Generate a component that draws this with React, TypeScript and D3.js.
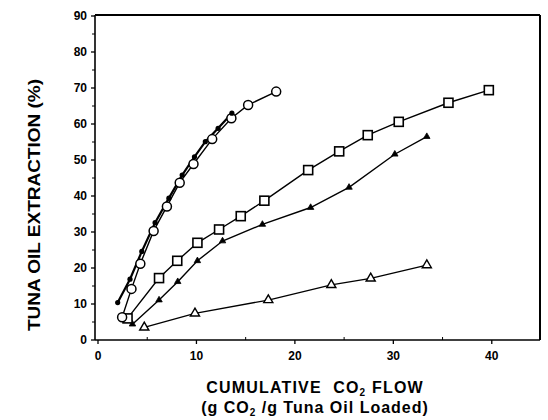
import React from "react";
import * as d3 from "d3";

// Series: filled circles
const filledCircleX = [2.0, 3.25, 4.45, 5.8, 7.2, 8.55, 9.8, 10.9, 12.2, 13.6];
const filledCircleY = [10.4, 16.9, 24.6, 32.6, 39.4, 45.8, 50.9, 55.1, 58.8, 63.0];
// Series: open circles
const openCircleX = [2.45, 3.4, 4.3, 5.65, 7.0, 8.3, 9.7, 11.6, 13.55, 15.25, 18.1];
const openCircleY = [6.3, 14.2, 21.2, 30.3, 37.1, 43.7, 48.9, 55.8, 61.6, 65.3, 69.0];
// Series: open squares
const openSquareX = [3.0, 6.2, 8.05, 10.1, 12.3, 14.5, 16.9, 21.35, 24.5, 27.4, 30.55, 35.6, 39.7];
const openSquareY = [6.0, 17.2, 22.0, 27.0, 30.7, 34.4, 38.7, 47.2, 52.4, 56.9, 60.6, 65.9, 69.4];
// Series: filled triangles
const filledTriX = [3.5, 6.2, 8.1, 10.1, 12.65, 16.7, 21.6, 25.5, 30.15, 33.4];
const filledTriY = [4.4, 11.1, 16.2, 22.0, 27.5, 32.1, 36.8, 42.4, 51.6, 56.5];
// Series: open triangles
const openTriX = [4.7, 9.85, 17.3, 23.7, 27.7, 33.4];
const openTriY = [3.5, 7.4, 11.1, 15.3, 17.1, 20.8];

const xTicks = [0, 10, 20, 30, 40];
const xMinorTicks = [5, 15, 25, 35];
const yTicks = [0, 10, 20, 30, 40, 50, 60, 70, 80, 90];
const yMinorTicks = [5, 15, 25, 35, 45, 55, 65, 75, 85];

const yLabel = "TUNA OIL EXTRACTION (%)";

const FONT = "'Liberation Sans', Arial, Helvetica, sans-serif";

export default function App() {
  const W = 548, H = 420;
  const x = d3.scaleLinear().domain([0, 45]).range([98, 541]);
  const y = d3.scaleLinear().domain([0, 90]).range([340, 16]);
  const left = 95, right = 540, top = 15, bottom = 340;

  const zip = (xs: number[], ys: number[]) => xs.map((v, i) => [v, ys[i]] as [number, number]);
  const line = d3.line<[number, number]>().x(d => x(d[0])).y(d => y(d[1]));

  const fc = zip(filledCircleX, filledCircleY);
  const oc = zip(openCircleX, openCircleY);
  const os = zip(openSquareX, openSquareY);
  const ft = zip(filledTriX, filledTriY);
  const ot = zip(openTriX, openTriY);

  const triSmall = d3.symbol().type(d3.symbolTriangle).size(18)()!;
  const triBig = d3.symbol().type(d3.symbolTriangle).size(36)()!;

  return (
    <svg width={W} height={H} style={{ position: "absolute", left: 0, top: 0, background: "#fff" }}>
      <rect x={0} y={0} width={W} height={H} fill="#fff" />
      {/* frame */}
      <line x1={left} y1={top} x2={right} y2={top} stroke="#000" strokeWidth={2} />
      <line x1={right} y1={top} x2={right} y2={bottom} stroke="#000" strokeWidth={2} />
      <line x1={left} y1={bottom} x2={right} y2={bottom} stroke="#000" strokeWidth={1.6} />
      <line x1={left} y1={top} x2={left} y2={bottom} stroke="#000" strokeWidth={1.6} />

      {/* y ticks */}
      {yTicks.map(t => (
        <g key={"yt" + t}>
          <line x1={left - 4} x2={left} y1={y(t)} y2={y(t)} stroke="#000" strokeWidth={1.3} />
          <text x={87} y={y(t) + 4} textAnchor="end" fontFamily={FONT} fontWeight="bold" fontSize={12}>{t}</text>
        </g>
      ))}
      {yMinorTicks.map(t => (
        <line key={"ym" + t} x1={left - 3} x2={left} y1={y(t)} y2={y(t)} stroke="#000" strokeWidth={1} />
      ))}
      {/* x ticks */}
      {xTicks.map(t => (
        <g key={"xt" + t}>
          <line x1={x(t)} x2={x(t)} y1={bottom} y2={bottom + 4} stroke="#000" strokeWidth={1.3} />
          <text x={x(t)} y={360} textAnchor="middle" fontFamily={FONT} fontWeight="bold" fontSize={12}>{t}</text>
        </g>
      ))}
      {xMinorTicks.map(t => (
        <line key={"xm" + t} x1={x(t)} x2={x(t)} y1={bottom - 3} y2={bottom} stroke="#000" strokeWidth={1} />
      ))}

      {/* lines */}
      <path d={line(ot)!} fill="none" stroke="#000" strokeWidth={1.3} />
      <path d={line(ft)!} fill="none" stroke="#000" strokeWidth={1.4} />
      <path d={line(os)!} fill="none" stroke="#000" strokeWidth={1.4} />
      <path d={line(oc)!} fill="none" stroke="#000" strokeWidth={1.4} />
      <path d={line(fc)!} fill="none" stroke="#000" strokeWidth={2.2} />

      {/* markers */}
      {ot.map((d, i) => (
        <path key={"ot" + i} d={triBig} transform={`translate(${x(d[0])},${y(d[1])})`} fill="#fff" stroke="#000" strokeWidth={1.4} />
      ))}
      {ft.map((d, i) => (
        <path key={"ft" + i} d={triSmall} transform={`translate(${x(d[0])},${y(d[1])})`} fill="#000" stroke="#000" strokeWidth={0.8} />
      ))}
      {os.map((d, i) => (
        <rect key={"os" + i} x={x(d[0]) - 4.5} y={y(d[1]) - 4.5} width={9} height={9} fill="#fff" stroke="#000" strokeWidth={1.6} />
      ))}
      {oc.map((d, i) => (
        <circle key={"oc" + i} cx={x(d[0])} cy={y(d[1])} r={4.5} fill="#fff" stroke="#000" strokeWidth={1.5} />
      ))}
      {fc.map((d, i) => (
        <circle key={"fc" + i} cx={x(d[0])} cy={y(d[1])} r={2.6} fill="#000" />
      ))}

      {/* y axis label */}
      <text transform="translate(40,205) rotate(-90)" textAnchor="middle" fontFamily={FONT} fontWeight="bold" fontSize={16}
        textLength={252} lengthAdjust="spacingAndGlyphs">{yLabel}</text>

      {/* x axis label */}
      <text x={315} y={393} textAnchor="middle" fontFamily={FONT} fontWeight="bold" fontSize={16} letterSpacing={1.2}>
        CUMULATIVE{"\u00A0\u00A0"}CO<tspan fontSize={10} dy={2.5}>2</tspan><tspan dy={-2.5}>{"\u00A0"}FLOW</tspan>
      </text>
      <text x={315} y={413} textAnchor="middle" fontFamily={FONT} fontWeight="bold" fontSize={16} letterSpacing={1}>
        (g CO<tspan fontSize={10} dy={2.5}>2</tspan><tspan dy={-2.5}>{"\u00A0"}/g Tuna Oil Loaded)</tspan>
      </text>
    </svg>
  );
}
